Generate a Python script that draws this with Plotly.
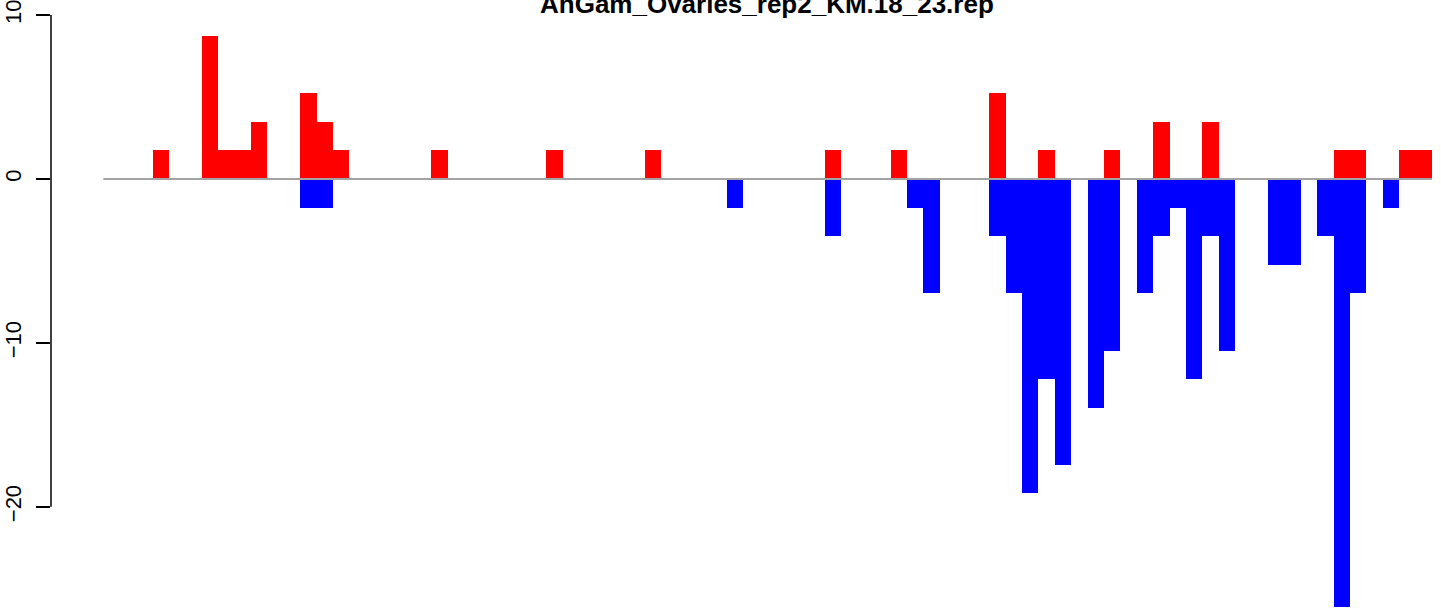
import plotly.graph_objects as go

title_text = "AnGam_Ovaries_rep2_KM.18_23.rep"

n_bins = 81
bins = list(range(n_bins))

# positive (red) values by bin index
pos_bins = [3, 6, 7, 8, 9, 12, 13, 14, 20, 27, 33, 44, 48, 54, 57, 61, 64, 67, 75, 76, 79, 80]
pos_vals = [1.74, 8.72, 1.74, 1.74, 3.49, 5.23, 3.49, 1.74, 1.74, 1.74, 1.74, 1.74, 1.74,
            5.23, 1.74, 1.74, 3.49, 3.49, 1.74, 1.74, 1.74, 1.74]

# negative (blue) values by bin index
neg_bins = [12, 13, 38, 44, 49, 50, 54, 55, 56, 57, 58, 60, 61, 63, 64, 65, 66, 67, 68,
            71, 72, 74, 75, 76, 78]
neg_vals = [-1.74, -1.74, -1.74, -3.49, -1.74, -6.98, -3.49, -6.98, -19.18, -12.21, -17.44,
            -13.95, -10.47, -6.98, -3.49, -1.74, -12.21, -3.49, -10.47, -5.23, -5.23, -3.49,
            -26.1, -6.98, -1.74]

y_ticks = [-20, -10, 0, 10]

FONT = "Liberation Sans, Arial, Helvetica, sans-serif"

fig = go.Figure()
fig.add_trace(go.Bar(x=pos_bins, y=pos_vals, width=1, marker=dict(color="#ff0000", line=dict(width=0)),
                     hoverinfo="x+y"))
fig.add_trace(go.Bar(x=neg_bins, y=neg_vals, width=1, marker=dict(color="#0000ff", line=dict(width=0)),
                     hoverinfo="x+y"))
fig.add_trace(go.Scatter(x=[bins[0] - 0.5, bins[-1] + 0.5], y=[0, 0], mode="lines",
                         line=dict(color="#a3a3a3", width=2), hoverinfo="skip"))

# y-axis line spanning tick range only (R style)
fig.add_shape(type="line", xref="paper", yref="y", x0=0, x1=0, y0=min(y_ticks), y1=max(y_ticks),
              line=dict(color="black", width=1.5))

fig.add_annotation(text="<b>" + title_text + "</b>", xref="paper", yref="paper",
                   x=(767 - 51) / (1441 - 51), y=1 - 4 / 608, xanchor="center", yanchor="middle",
                   showarrow=False, font=dict(family=FONT, size=26, color="black"))

fig.update_layout(
    width=1441, height=608,
    margin=dict(l=51, r=0, t=0, b=0, pad=0, autoexpand=False),
    paper_bgcolor="white", plot_bgcolor="white",
    barmode="overlay", bargap=0, showlegend=False,
    font=dict(family=FONT, color="black"),
    xaxis=dict(range=[-3.69, 81.05], visible=False, showgrid=False, zeroline=False, automargin=False),
    yaxis=dict(range=[-26.17, 10.92], tickvals=y_ticks, ticktext=[str(v).replace("-", "\u2212") for v in y_ticks],
               ticks="outside", ticklen=14, tickwidth=1.5, tickcolor="black",
               tickangle=-90, tickfont=dict(family=FONT, size=22, color="black"),
               ticklabelstandoff=6, ticklabeloverflow="allow", automargin=False,
               showgrid=False, zeroline=False, showline=False),
)

fig.write_html("out.html", config={"displayModeBar": False},
               post_script="document.body.style.margin='0';document.body.style.overflow='hidden';")
